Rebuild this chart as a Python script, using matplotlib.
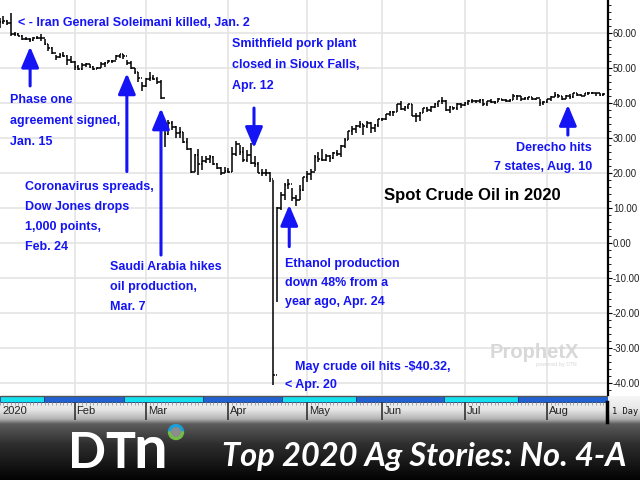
import numpy as np
import matplotlib
matplotlib.use("Agg")
import matplotlib.pyplot as plt
from matplotlib.collections import LineCollection
from matplotlib.colors import LinearSegmentedColormap
from matplotlib.patches import Rectangle, Wedge, Circle
from matplotlib.ticker import FormatStrFormatter, MultipleLocator

# spot crude, one bar per trading day, index 0 = Jan 2 2020
highs = [
    61.6, 64.1, 64.7, 63.5, 65.65, 60.2, 59.9, 59.3, 58.7, 58.4, 58.8, 59.1, 59.7, 58.3, 56.8, 55.9, 53.6, 54.1, 54.4, 53.6, 53.2,
    52.0, 50.8, 51.2, 51.3, 51.1, 50.4, 50.2, 51.6, 51.7, 52.3, 52.3, 53.5, 54.0, 53.8, 52.2, 51.8, 50.0, 48.7, 46.0,
    47.0, 48.7, 48.0, 47.4, 46.4, 34.9, 35.0, 34.7, 33.5, 33.2, 31.6, 30.1, 27.2, 25.5, 26.8, 24.9, 24.7, 25.2, 24.8, 22.7, 21.7, 21.6,
    21.4, 27.4, 29.1, 28.0, 27.5, 26.4, 28.4, 24.7, 23.0, 21.1, 21.1, 20.4, 17.9, 10.4, 14.6, 17.2, 18.3, 15.7, 13.7, 16.5, 18.9,
    20.5, 21.0, 25.0, 26.1, 26.7, 25.3, 25.1, 26.0, 26.6, 28.0, 29.9, 32.0, 33.3, 33.6, 34.7, 33.9, 34.8, 34.4, 34.0, 35.5,
    35.7, 36.9, 37.6, 37.8, 39.6, 40.4, 39.0, 39.7, 39.6, 37.0, 37.4, 38.5, 38.7, 39.1, 40.0, 40.6, 41.6, 40.7, 39.0, 38.9, 39.8, 40.0,
    40.2, 40.8, 41.0, 40.9, 41.1, 41.0, 40.6, 41.0, 40.5, 41.5, 41.2, 41.0, 41.1, 42.4, 42.1, 42.0, 41.6, 41.7, 41.7, 41.5, 41.0, 40.5,
    41.1, 41.8, 43.0, 42.6, 42.0, 42.2, 42.5, 42.9, 42.8, 42.6, 42.9, 43.1, 43.2, 42.9, 42.9, 42.9,
]
lows = [
    60.6, 61.3, 62.6, 62.3, 59.15, 58.9, 58.9, 57.8, 57.9, 57.3, 57.6, 58.2, 57.7, 56.4, 54.8, 53.9, 52.1, 52.9, 53.1, 50.9, 51.3,
    49.4, 49.3, 49.4, 50.2, 49.9, 49.3, 49.5, 49.8, 50.3, 51.3, 51.3, 52.1, 52.8, 52.6, 50.8, 49.7, 48.2, 45.9, 43.3,
    44.4, 46.3, 46.4, 45.3, 41.1, 27.3, 30.8, 32.2, 30.1, 30.0, 28.4, 26.6, 20.1, 20.3, 19.5, 20.8, 22.7, 22.9, 22.4, 21.1, 19.3, 19.9,
    19.9, 20.2, 24.9, 25.2, 23.0, 23.0, 22.6, 21.6, 19.9, 19.2, 19.2, 17.3, -40.32, -16.7, 9.5, 12.2, 15.3, 12.0, 10.7, 12.3, 14.8,
    17.3, 18.0, 20.6, 23.0, 23.4, 23.4, 23.1, 24.0, 24.9, 24.5, 27.0, 29.5, 30.9, 31.5, 32.8, 30.9, 32.8, 31.5, 31.6, 33.1,
    34.8, 35.2, 36.1, 36.1, 37.3, 37.9, 37.6, 38.2, 36.1, 34.4, 34.7, 37.0, 37.3, 37.4, 38.6, 38.9, 39.7, 37.8, 37.1, 37.9, 37.9, 38.6,
    39.1, 39.5, 39.8, 40.0, 39.9, 39.2, 39.0, 39.8, 39.7, 40.3, 40.5, 40.3, 40.2, 40.8, 40.9, 40.6, 40.7, 40.9, 40.8, 40.8, 39.0, 39.5,
    39.8, 40.6, 41.6, 41.5, 40.8, 41.1, 41.2, 41.5, 41.9, 41.8, 41.9, 42.3, 42.4, 41.9, 41.9, 42.0,
]
closes = [
    61.18, 63.05, 63.27, 62.70, 59.61, 59.56, 59.04, 58.08, 58.23, 57.81, 58.52, 58.54, 58.34, 56.74, 55.59, 54.19, 53.14, 53.48, 53.33, 52.14, 51.56,
    50.11, 49.61, 50.75, 50.95, 50.32, 49.57, 49.94, 51.17, 51.42, 52.05, 52.05, 53.29, 53.78, 53.38, 51.43, 49.90, 48.73, 47.09, 44.76,
    46.75, 47.18, 46.78, 45.90, 41.28, 31.13, 34.36, 32.98, 31.50, 31.73, 28.70, 26.95, 20.37, 25.22, 22.43, 23.36, 24.01, 24.49, 22.60, 21.51, 20.09, 20.48,
    20.31, 25.32, 28.34, 26.08, 23.63, 25.09, 22.76, 22.41, 20.11, 19.87, 19.87, 18.27, -37.63, 10.01, 13.78, 16.50, 16.94, 12.78, 12.34, 15.06, 18.84,
    19.78, 20.39, 24.56, 23.99, 23.55, 24.74, 24.14, 25.78, 25.29, 27.56, 29.43, 31.82, 32.50, 33.49, 33.92, 33.25, 34.35, 32.81, 33.71, 35.49,
    35.44, 36.81, 37.29, 37.41, 39.55, 38.19, 38.94, 39.60, 36.34, 36.26, 37.12, 38.38, 37.96, 38.84, 39.75, 40.46, 40.37, 38.01, 38.72, 38.49, 39.70, 39.27,
    39.82, 40.65, 40.63, 40.62, 40.90, 39.62, 40.55, 40.10, 40.29, 41.20, 40.75, 40.59, 40.81, 41.96, 41.90, 41.07, 41.29, 41.60, 41.04, 41.27, 39.92, 40.27,
    41.01, 41.70, 42.19, 41.95, 41.22, 41.94, 41.61, 42.67, 42.24, 42.01, 42.89, 42.89, 42.93, 42.82, 42.34, 42.62,
]

month_labels = ["2020", "Feb", "Mar", "Apr", "May", "Jun", "Jul", "Aug"]
month_starts = [0, 21, 40, 62, 83, 103, 125, 147]
y_ticks = list(range(-40, 61, 10))

# events: text lines, arrow day index, arrow tail / head price
event_lines = [
    ["Phase one", "agreement signed,", "Jan. 15"],
    ["Coronavirus spreads,", "Dow Jones drops", "1,000 points,", "Feb. 24"],
    ["Saudi Arabia hikes", "oil production,", "Mar. 7"],
    ["Smithfield pork plant", "closed in Sioux Falls,", "Apr. 12"],
    ["Ethanol production", "down 48% from a", "year ago, Apr. 24"],
]
arrow_day = [9.1, 34.9, 44.0, 68.8, 78.2, 152.5]
arrow_tail = [44.8, 20.4, -3.4, 38.5, -1.0, 30.8]
arrow_head = [56.0, 48.4, 38.4, 27.1, 10.9, 39.4]

# band strip (cyan / blue blocks along the date axis)
strip_edges = [1.07, 12.8, 34.1, 55.2, 76.3, 96.0, 119.5, 139.2, 163.2]

BLUE = "#1414f5"
SANS = ["Liberation Sans", "DejaVu Sans"]
LSIZE = 9.0
W, H = 640, 480


def fy(y):
    return 1 - y / H


fig = plt.figure(figsize=(6.4, 4.8), dpi=100, facecolor="white")

# dark gradient under the chart
bg = fig.add_axes([0, 0, 1, fy(396)], zorder=0)
grad_cmap = LinearSegmentedColormap.from_list(
    "band", [(0, "#f7f7f7"), (0.17, "#e6e6e6"), (0.28, "#b4b4b4"), (0.34, "#5c5c5c"),
             (0.58, "#2e2e2e"), (1, "#030303")])
bg.imshow(np.linspace(0, 1, 200).reshape(-1, 1), aspect="auto", cmap=grad_cmap, extent=(0, 1, 0, 1))
bg.axis("off")

# main price chart
ax = fig.add_axes([0, fy(395), 608 / W, 395 / H], zorder=2)
ax.set_facecolor("white")
segs = []
for i, (h, l, c) in enumerate(zip(highs, lows, closes)):
    o = closes[i - 1] if i else c
    segs.append([(i, l), (i, h)])
    segs.append([(i - 0.45, o), (i, o)])
    segs.append([(i, c), (i + 0.45, c)])
ax.add_collection(LineCollection(segs, colors="black", linewidths=1.1))
ax.set_xlim(1.07, 163.2)
ax.set_ylim(-43.3, 69.3)

ax.set_yticks(y_ticks)
ax.yaxis.set_major_formatter(FormatStrFormatter("%.2f"))
ax.yaxis.set_minor_locator(MultipleLocator(2))
ax.yaxis.tick_right()
ax.tick_params(axis="y", which="major", length=3, width=0.8, pad=0.5, labelsize=6.9, labelcolor="#202020")
ax.tick_params(axis="y", which="minor", length=1.8, width=0.6)
for lab in ax.get_yticklabels():
    lab.set_family(SANS)
ax.set_xticks(month_starts[1:])
ax.tick_params(axis="x", length=0, labelbottom=False)
ax.grid(True, color="#e4e4e4", lw=1.2)
ax.set_axisbelow(True)
for side in ["left", "top", "bottom"]:
    ax.spines[side].set_visible(False)
ax.spines["right"].set_linewidth(1.6)

for day, tail, head in zip(arrow_day, arrow_tail, arrow_head):
    ax.annotate("", xy=(day, head), xytext=(day, tail),
                arrowprops=dict(arrowstyle="-|>,head_width=0.38,head_length=0.9", color=BLUE,
                                lw=2.2, mutation_scale=14, shrinkA=0, shrinkB=0))

# date band
band = fig.add_axes([0, fy(423), 608 / W, 28 / H], zorder=3)
band.patch.set_alpha(0)
band.set_xlim(1.07, 163.2)
band.set_ylim(28, 0)
band.axis("off")
for k in range(len(strip_edges) - 1):
    band.add_patch(Rectangle((strip_edges[k], 1), strip_edges[k + 1] - strip_edges[k], 6,
                             facecolor="#14e2ee" if k % 2 == 0 else "#2062d2",
                             edgecolor="#1a3a7a", lw=0.6))
band.hlines(0.6, 1.07, 163.2, color="#555555", lw=1.0)
band.vlines(range(len(closes)), 7, 9.5, color="#999999", lw=0.6)
band.vlines(month_starts[1:], 7, 25, color="#333333", lw=1.2)
for m, name in zip(month_starts, month_labels):
    band.text(max(m, 1.1) + 0.5, 16.5, name, va="center", ha="left", fontsize=8,
              color="#222222", family=SANS)

# pixel overlay for labels and logos
ov = fig.add_axes([0, 0, 1, 1], zorder=10)
ov.set_xlim(0, W)
ov.set_ylim(H, 0)
ov.axis("off")
ov.plot([607, 607], [402, 422], color="black", lw=2.5)
ov.text(612, 414, "1 Day", fontsize=6.2, family="DejaVu Sans Mono", color="#111111", va="baseline")

lab_kw = dict(color=BLUE, fontsize=LSIZE, fontweight="bold", family=SANS, va="baseline")
ov.text(18, 26, "< - Iran General Soleimani killed, Jan. 2", **lab_kw)
label_pos = [(10, 103, 21), (25, 190, 20), (110, 270, 20), (232, 47, 21), (285, 267, 19)]
for lines, (x0, y0, dy) in zip(event_lines, label_pos):
    for k, s in enumerate(lines):
        ov.text(x0, y0 + k * dy, s, **lab_kw)
ov.text(592, 151, "Derecho hits", ha="right", **lab_kw)
ov.text(592, 170, "7 states, Aug. 10", ha="right", **lab_kw)
ov.text(295, 370, "May crude oil hits -$40.32,", **lab_kw)
ov.text(285, 388, "< Apr. 20", **lab_kw)

ov.text(384, 200, "Spot Crude Oil in 2020", color="black", fontsize=12, fontweight="bold",
        family=SANS, va="baseline")

ov.text(490, 358, "ProphetX", color="#d8d8d8", fontsize=14.5, fontweight="bold",
        family=SANS, va="baseline")
ov.text(577, 366, "powered by DTN", color="#d6d6d6", fontsize=3.5, ha="right", va="baseline")

# DTN logo and banner title
ov.text(68, 468, "DT", color="white", fontsize=36, fontweight="bold", family=["Lato", "DejaVu Sans"],
        va="baseline")
ov.text(133, 468, "n", color="white", fontsize=43, fontweight="bold", family=["Lato", "DejaVu Sans"],
        va="baseline")
ov.add_patch(Wedge((176, 432), 7.5, 180, 360, width=3.2, color="#1c9fd6"))
ov.add_patch(Wedge((176, 432), 7.5, 0, 180, width=3.2, color="#72bd46"))
ov.add_patch(Circle((176, 432), 4.3, color="#8c8c8c"))
ov.text(222, 466, "Top 2020 Ag Stories: No. 4-A", color="white", fontsize=23.5, fontweight="bold",
        style="italic", family=["Lato", "DejaVu Sans"], va="baseline")

fig.savefig("out.png", dpi=100)
